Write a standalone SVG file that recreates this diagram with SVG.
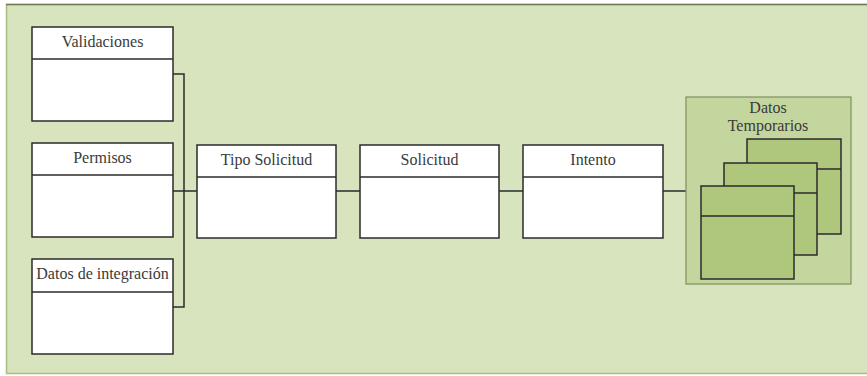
<svg xmlns="http://www.w3.org/2000/svg" width="867" height="376" viewBox="0 0 867 376">
  <style>
    .panel { fill: #d7e4bd; stroke: #a9bd83; stroke-width: 1.5; }
    .top-edge { stroke: #6f7d57; stroke-width: 1.5; }
    .box { fill: #ffffff; stroke: #2b2b2b; stroke-width: 1.5; }
    .sep { stroke: #2b2b2b; stroke-width: 1.5; }
    .group { fill: #c3d69d; stroke: #7f9060; stroke-width: 1.2; }
    .page { fill: #afc77d; stroke: #2b2b2b; stroke-width: 1.5; }
    .label { font-family: "Liberation Serif", "Times New Roman", serif; font-size: 16px; fill: #3a3a3a; text-anchor: middle; }
    .wire { fill: none; stroke: #2b2b2b; stroke-width: 1.5; }
  </style>

  <!-- background panel -->
  <rect class="panel" x="6.5" y="4.5" width="868" height="369"/>
  <line class="top-edge" x1="6" y1="4.5" x2="867" y2="4.5"/>

  <!-- connectors -->
  <g id="connectors">
    <polyline class="wire" points="173,74 184,74 184,307 173,307"/>
    <line class="wire" x1="173" y1="191" x2="197" y2="191"/>
    <line class="wire" x1="336" y1="191" x2="360" y2="191"/>
    <line class="wire" x1="499" y1="191" x2="523" y2="191"/>
    <line class="wire" x1="663" y1="191" x2="686" y2="191"/>
  </g>

  <g id="validaciones">
    <rect class="box" x="32" y="27" width="141" height="94"/>
    <line class="sep" x1="32" y1="59" x2="173" y2="59"/>
    <text class="label" x="102.5" y="47">Validaciones</text>
  </g>

  <g id="permisos">
    <rect class="box" x="32" y="143" width="141" height="94"/>
    <line class="sep" x1="32" y1="175" x2="173" y2="175"/>
    <text class="label" x="102.5" y="163">Permisos</text>
  </g>

  <g id="datos-integracion">
    <rect class="box" x="32" y="259" width="141" height="95"/>
    <line class="sep" x1="32" y1="292" x2="173" y2="292"/>
    <text class="label" x="102.5" y="279">Datos de integración</text>
  </g>

  <g id="tipo-solicitud">
    <rect class="box" x="197" y="145" width="139" height="93"/>
    <line class="sep" x1="197" y1="177" x2="336" y2="177"/>
    <text class="label" x="266.5" y="165">Tipo Solicitud</text>
  </g>

  <g id="solicitud">
    <rect class="box" x="360" y="145" width="139" height="93"/>
    <line class="sep" x1="360" y1="177" x2="499" y2="177"/>
    <text class="label" x="429.5" y="165">Solicitud</text>
  </g>

  <g id="intento">
    <rect class="box" x="523" y="145" width="140" height="93"/>
    <line class="sep" x1="523" y1="177" x2="663" y2="177"/>
    <text class="label" x="593" y="165">Intento</text>
  </g>

  <g id="datos-temporarios">
    <rect class="group" x="686" y="97" width="165" height="187"/>
    <text class="label" x="768" y="113">Datos</text>
    <text class="label" x="768" y="131">Temporarios</text>
    <!-- stacked records -->
    <rect class="page" x="747" y="139" width="94" height="95"/>
    <line class="sep" x1="747" y1="169" x2="841" y2="169"/>
    <rect class="page" x="724" y="163" width="93" height="92"/>
    <line class="sep" x1="724" y1="193" x2="817" y2="193"/>
    <rect class="page" x="701" y="186" width="93" height="93"/>
    <line class="sep" x1="701" y1="216" x2="794" y2="216"/>
  </g>
</svg>
